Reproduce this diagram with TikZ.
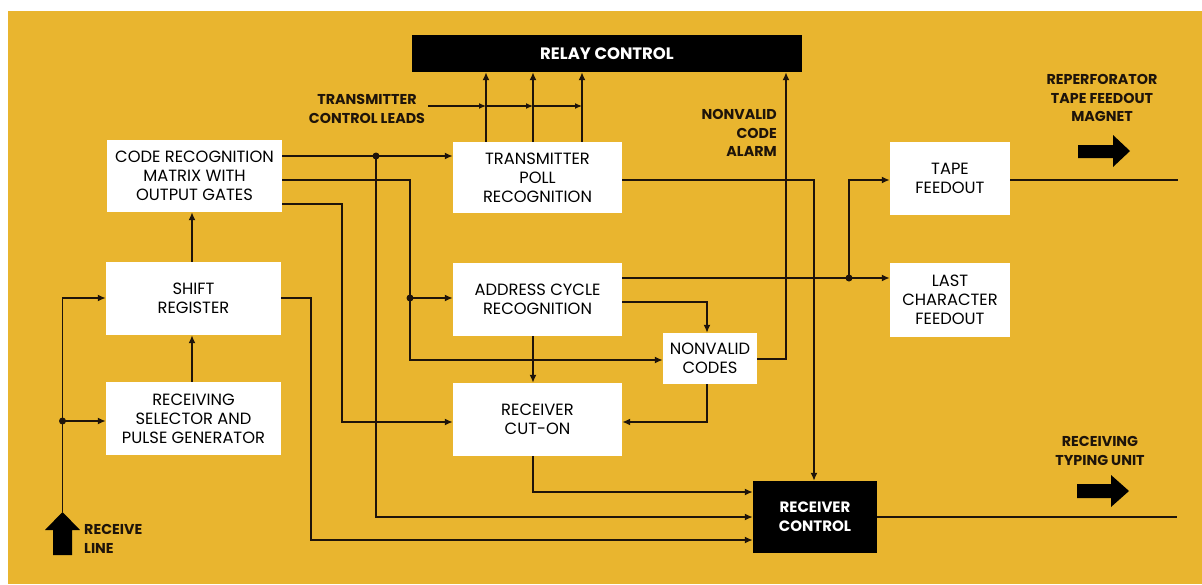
\documentclass[tikz,border=0pt]{standalone}
\usepackage{fontspec}
\setmainfont{Poppins}
\usetikzlibrary{arrows.meta}
\definecolor{bgyellow}{RGB}{233,181,47}
\definecolor{ink}{RGB}{30,20,10}
\tikzset{
  box/.style={fill=white, draw=none, inner sep=0pt, align=center, font=\fontsize{16.3}{19}\selectfont, text=black},
  blackbox/.style={fill=black, draw=none, inner sep=0pt, align=center, font=\fontsize{15}{19}\selectfont\bfseries, text=white},
  lbl/.style={inner sep=0pt, font=\fontsize{14.3}{18.5}\selectfont\bfseries, text=ink},
  wire/.style={draw=ink, line width=1.8pt},
  arr/.style={wire, -{Latex[length=8pt,width=7pt]}},
  thinarr/.style={draw=ink, line width=1.2pt, -{Latex[length=7pt,width=6pt]}},
  dot/.style={circle, fill=ink, inner sep=0pt, minimum size=7pt},
}
\begin{document}
\begin{tikzpicture}[x=1pt,y=-1pt]
\useasboundingbox (0,0) rectangle (1202,584);
\fill[white] (0,0) rectangle (1202,584);
\fill[bgyellow] (8,11) rectangle (1202,584);

% boxes
\node[box, minimum width=175pt, minimum height=72pt] (code) at (194.5,176) {CODE RECOGNITION\\MATRIX WITH\\OUTPUT GATES};
\node[box, minimum width=175pt, minimum height=73pt] (shift) at (193.5,298.5) {SHIFT\\REGISTER};
\node[box, minimum width=175pt, minimum height=73pt] (rsel) at (193.5,418.5) {RECEIVING\\SELECTOR AND\\PULSE GENERATOR};
\node[box, minimum width=169pt, minimum height=71pt] (tpoll) at (537.5,177.5) {TRANSMITTER\\POLL\\RECOGNITION};
\node[box, minimum width=169pt, minimum height=73pt] (addr) at (537.5,299.5) {ADDRESS CYCLE\\RECOGNITION};
\node[box, minimum width=169pt, minimum height=73pt] (cuton) at (537.5,419.5) {RECEIVER\\CUT-ON};
\node[box, minimum width=94pt, minimum height=51pt] (nonv) at (710,358.5) {NONVALID\\CODES};
\node[blackbox, minimum width=124pt, minimum height=72pt] (rcvctl) at (815,517) {RECEIVER\\CONTROL};
\node[blackbox, minimum width=390pt, minimum height=37pt, font=\fontsize{16.5}{19}\selectfont\bfseries] (relay) at (607,53.5) {RELAY CONTROL};
\node[box, minimum width=120pt, minimum height=73pt] (tape) at (950,178.5) {TAPE\\FEEDOUT};
\node[box, minimum width=120pt, minimum height=74pt] (last) at (950,300) {LAST\\CHARACTER\\FEEDOUT};

% labels
\node[lbl, align=center] (tcl) at (367,109) {TRANSMITTER\\CONTROL LEADS};
\node[lbl, align=right, anchor=east] (nvca) at (777,133) {NONVALID\\CODE\\ALARM};
\node[lbl, align=center] (rtfm) at (1102,98) {REPERFORATOR\\TAPE FEEDOUT\\MAGNET};
\node[lbl, align=center] (rtu) at (1100,451) {RECEIVING\\TYPING UNIT};
\node[lbl, align=left, anchor=west] (rline) at (84,539) {RECEIVE\\LINE};

% fat arrows
\fill[black] (53,555) -- (53,530) -- (45,530) -- (62.5,512) -- (80,530) -- (72,530) -- (72,555) -- cycle;
\fill[black] (1078,145) -- (1113,145) -- (1113,135) -- (1130,151) -- (1113,167) -- (1113,158) -- (1078,158) -- cycle;
\fill[black] (1077,484) -- (1111,484) -- (1111,475) -- (1129,491) -- (1111,507) -- (1111,498) -- (1077,498) -- cycle;

% coordinates
\coordinate (rx) at (62.5,512);
\coordinate (j1) at (376,156);
\coordinate (j2) at (410,298);
\coordinate (j3) at (62.5,421);
\coordinate (j4) at (849,278);
\coordinate (tclstart) at (428,106);
\coordinate (out1) at (1177,517);
\coordinate (out2) at (1178,180);

% receive line
\draw[arr] (rx) |- (shift.west |- 0,298);
\draw[arr] (j3) -- (rsel.west |- 0,421);
\draw[arr] (rsel.north -| 192,0) -- (shift.south -| 192,0);
\draw[arr] (shift.north -| 192,0) -- (code.south -| 192,0);

% code recognition outputs
\draw[arr] (code.east |- 0,156) -- (tpoll.west |- 0,156);
\draw[arr] (j1) |- (rcvctl.west |- 0,517);
\draw[wire] (code.east |- 0,180) -| (j2);
\draw[arr] (j2) -- (addr.west |- 0,298);
\draw[arr] (j2) |- (nonv.west |- 0,360);
\draw[arr] (code.east |- 0,204) -| (342,422) -- (cuton.west |- 0,422);

% shift register output
\draw[arr] (shift.east |- 0,298) -| (311,540) -- (rcvctl.west |- 0,540);

% transmitter poll to relay control
\draw[arr] (tpoll.north -| 486,0) -- (relay.south -| 486,0);
\draw[arr] (tpoll.north -| 533,0) -- (relay.south -| 533,0);
\draw[arr] (tpoll.north -| 582,0) -- (relay.south -| 582,0);
\draw[thinarr] (tclstart) -- (486,106);
\draw[thinarr] (486,106) -- (533,106);
\draw[thinarr] (533,106) -- (582,106);

% transmitter poll to receiver control
\draw[arr] (tpoll.east |- 0,180) -| (rcvctl.north -| 814,0);

% nonvalid codes alarm
\draw[arr] (nonv.east |- 0,359) -| (relay.south -| 786,0);

% address cycle outputs
\draw[arr] (addr.east |- 0,278) -- (last.west |- 0,278);
\draw[arr] (j4) |- (tape.west |- 0,180);
\draw[arr] (addr.east |- 0,302) -| (nonv.north -| 707,0);
\draw[arr] (addr.south -| 533,0) -- (cuton.north -| 533,0);

% nonvalid to cut-on
\draw[arr] (nonv.south -| 707,0) |- (cuton.east |- 0,422);

% cut-on to receiver control
\draw[arr] (cuton.south -| 533,0) |- (rcvctl.west |- 0,492);

% outputs
\draw[wire] (rcvctl.east |- 0,517) -- (out1);
\draw[wire] (tape.east |- 0,180) -- (out2);

% junction dots
\node[dot] at (j1) {};
\node[dot] at (j2) {};
\node[dot] at (j3) {};
\node[dot] at (j4) {};
\end{tikzpicture}
\end{document}
